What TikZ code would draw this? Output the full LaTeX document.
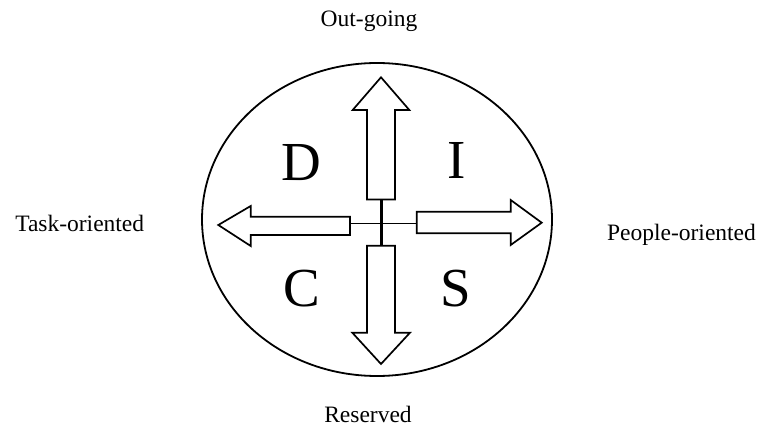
\documentclass[tikz,border=0pt]{standalone}
\usepackage{fontspec}
\setmainfont{Liberation Serif}
\begin{document}
\begin{tikzpicture}[x=1pt,y=-1pt,
  outline/.style={draw=black,line width=1.7pt,line join=miter,fill=white},
  lbl/.style={font=\fontsize{23.5}{28}\selectfont,anchor=base,inner sep=0pt},
  big/.style={font=\fontsize{55}{60}\selectfont,anchor=center,inner sep=0pt}]
\useasboundingbox (0,0) rectangle (759,427);
% ellipse
\draw[line width=1.8pt] (377,219.5) ellipse [x radius=175, y radius=156.5];
% cross
\coordinate (ctop) at (381.5,199.5);
\coordinate (cbot) at (381.5,245.7);
\coordinate (cleft) at (350,223.5);
\coordinate (cright) at (416.7,223.5);
\draw[line width=2.6pt] (ctop) -- (cbot);
\draw[line width=1.8pt] (cleft) -- (cright);
% up arrow
\draw[outline] (367,199.5) -- (367,110) -- (352.7,110) -- (381,77.3) -- (409.3,110) -- (395,110) -- (395,199.5) -- cycle;
% down arrow
\draw[outline] (367,245.7) -- (367,332.7) -- (352.3,332.7) -- (381,364) -- (410,332.7) -- (395,332.7) -- (395,245.7) -- cycle;
% left arrow
\draw[outline] (350,216.7) -- (250.7,216.7) -- (250.7,206) -- (218.3,225) -- (250.7,246) -- (250.7,235) -- (350,235) -- cycle;
% right arrow
\draw[outline] (416.7,211.7) -- (510.7,211.7) -- (510.7,200) -- (541.7,222.7) -- (510.7,245) -- (510.7,233.3) -- (416.7,233.3) -- cycle;
% letters
\node[big] (d) at (301,163) {D};
\node[big] (i) at (456.5,160) {I};
\node[big] (c) at (302,288.5) {C};
\node[big] (s) at (456,288.5) {S};
% labels
\node[lbl] (out) at (369,27) {Out-going};
\node[lbl] (task) at (79.7,231.7) {Task-oriented};
\node[lbl] (people) at (681.5,240.7) {People-oriented};
\node[lbl] (res) at (368,422.5) {Reserved};
\end{tikzpicture}
\end{document}
